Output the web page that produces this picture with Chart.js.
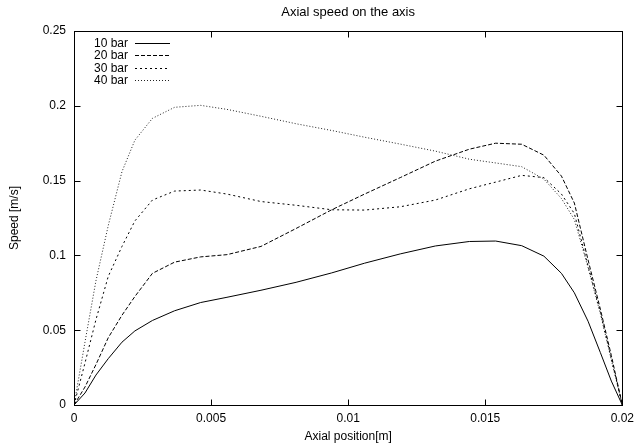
<!DOCTYPE html>
<html>
<head>
<meta charset="utf-8">
<script src="https://cdn.jsdelivr.net/npm/chart.js@4.4.1/dist/chart.umd.min.js"></script>
<style>
  html, body { margin: 0; padding: 0; background: #fff; }
  canvas { display: block; }
</style>
</head>
<body>
<canvas id="chart" width="640" height="447"></canvas>
<script>
// axial positions of the mesh nodes [m]
var positions = [0, 0.0004, 0.0008, 0.00125, 0.00175, 0.00222, 0.00286, 0.00367, 0.00462, 0.00558,
    0.00682, 0.0081, 0.0094, 0.0106, 0.0119, 0.01318, 0.01442, 0.01538, 0.01633, 0.01714,
    0.01778, 0.01825, 0.01875, 0.0192, 0.0196, 0.02];

// speed [m/s] per pressure
var speed10 = [0, 0.008, 0.02, 0.031, 0.042, 0.0495, 0.0565, 0.063, 0.0685, 0.072,
    0.0767, 0.082, 0.0883, 0.0948, 0.101, 0.1063, 0.1093, 0.1096, 0.1065, 0.0995,
    0.088, 0.075, 0.056, 0.035, 0.016, 0];
var speed20 = [0, 0.012, 0.027, 0.045, 0.060, 0.0725, 0.088, 0.0955, 0.099, 0.1005,
    0.106, 0.118, 0.1305, 0.141, 0.152, 0.163, 0.171, 0.175, 0.1743, 0.167,
    0.153, 0.135, 0.097, 0.064, 0.033, 0];
var speed30 = [0, 0.028, 0.057, 0.086, 0.106, 0.123, 0.137, 0.143, 0.1437, 0.141,
    0.136, 0.1335, 0.1305, 0.1303, 0.1325, 0.137, 0.1445, 0.149, 0.1535, 0.152,
    0.141, 0.128, 0.093, 0.062, 0.031, 0];
var speed40 = [0, 0.042, 0.083, 0.12, 0.156, 0.177, 0.1916, 0.199, 0.2003, 0.1976,
    0.193, 0.188, 0.1835, 0.179, 0.1744, 0.1697, 0.1643, 0.1618, 0.1593, 0.151,
    0.138, 0.124, 0.092, 0.061, 0.03, 0];

var seriesLabels = ['10 bar', '20 bar', '30 bar', '40 bar'];
var xTicks = [0, 0.005, 0.01, 0.015, 0.02];
var yTicks = [0, 0.05, 0.1, 0.15, 0.2, 0.25];

var FONT = '"Liberation Sans", Arial, Helvetica, sans-serif';

function points(values) {
    return values.map(function (v, i) { return { x: positions[i], y: v }; });
}

function fmt(v) {
    return String(+(+v).toFixed(4));
}

// gnuplot style box, inward ticks on all sides and the key
var gnuplotFrame = {
    id: 'gnuplotFrame',
    afterDatasetsDraw: function (chart) {
        var ctx = chart.ctx;
        var a = chart.chartArea;
        var xs = chart.scales.x, ys = chart.scales.y;
        var L = Math.round(a.left) + 0.5, R = Math.round(a.right) + 0.5;
        var T = Math.round(a.top) + 0.5, B = Math.round(a.bottom) + 0.5;
        ctx.save();
        ctx.strokeStyle = '#000';
        ctx.lineWidth = 1;
        ctx.setLineDash([]);
        ctx.strokeRect(L, T, R - L, B - T);
        ctx.beginPath();
        xTicks.forEach(function (t) {
            var px = Math.round(xs.getPixelForValue(t)) + 0.5;
            ctx.moveTo(px, B); ctx.lineTo(px, B - 6);
            ctx.moveTo(px, T); ctx.lineTo(px, T + 6);
        });
        yTicks.forEach(function (t) {
            var py = Math.round(ys.getPixelForValue(t)) + 0.5;
            ctx.moveTo(L, py); ctx.lineTo(L + 6, py);
            ctx.moveTo(R, py); ctx.lineTo(R - 6, py);
        });
        ctx.stroke();

        // key
        ctx.font = '12px ' + FONT;
        ctx.fillStyle = '#000';
        ctx.textAlign = 'right';
        ctx.textBaseline = 'middle';
        chart.data.datasets.forEach(function (ds, i) {
            var yy = Math.round(a.top + 12 + i * 12.3) + 0.5;
            ctx.fillText(ds.label, a.left + 54, yy);
            ctx.strokeStyle = ds.borderColor;
            ctx.setLineDash(ds.borderDash || []);
            ctx.beginPath();
            ctx.moveTo(a.left + 61, yy);
            ctx.lineTo(a.left + 96, yy);
            ctx.stroke();
        });
        ctx.restore();
    }
};

var speedChart = new Chart(
    document.getElementById('chart'),
    {
        type: 'line',
        data: {
            datasets: [{
                label: seriesLabels[0],
                data: points(speed10),
                borderColor: '#000',
                borderWidth: 1,
                borderDash: [],
                fill: false,
                pointRadius: 0,
                tension: 0
            }, {
                label: seriesLabels[1],
                data: points(speed20),
                borderColor: '#000',
                borderWidth: 1,
                borderDash: [4, 2],
                fill: false,
                pointRadius: 0,
                tension: 0
            }, {
                label: seriesLabels[2],
                data: points(speed30),
                borderColor: '#000',
                borderWidth: 1,
                borderDash: [2, 3],
                fill: false,
                pointRadius: 0,
                tension: 0
            }, {
                label: seriesLabels[3],
                data: points(speed40),
                borderColor: '#222',
                borderWidth: 1,
                borderDash: [1, 2],
                fill: false,
                pointRadius: 0,
                tension: 0
            }]
        },
        options: {
            responsive: false,
            devicePixelRatio: 1,
            animation: false,
            layout: {
                padding: { top: 0, right: 16, bottom: 0, left: 0 }
            },
            plugins: {
                legend: { display: false },
                tooltip: { enabled: false },
                title: {
                    display: true,
                    fullSize: false,
                    text: 'Axial speed on the axis',
                    color: '#000',
                    font: { family: FONT, size: 13, weight: 'normal' },
                    padding: { top: 4.5, bottom: 10.9 }
                }
            },
            scales: {
                x: {
                    type: 'linear',
                    min: 0,
                    max: 0.02,
                    afterBuildTicks: function (scale) {
                        scale.ticks = xTicks.map(function (v) { return { value: v }; });
                    },
                    afterFit: function (scale) { scale.height = 42; },
                    grid: { display: false, drawTicks: false },
                    border: { display: false },
                    ticks: {
                        autoSkip: false,
                        maxRotation: 0,
                        padding: 6,
                        color: '#000',
                        font: { family: FONT, size: 12 },
                        callback: fmt
                    },
                    title: {
                        display: true,
                        text: 'Axial position[m]',
                        color: '#000',
                        font: { family: FONT, size: 12 },
                        padding: { top: 0, bottom: 2.8 }
                    }
                },
                y: {
                    type: 'linear',
                    min: 0,
                    max: 0.25,
                    afterBuildTicks: function (scale) {
                        scale.ticks = yTicks.map(function (v) { return { value: v }; });
                    },
                    afterFit: function (scale) { scale.width = 74; },
                    grid: { display: false, drawTicks: false },
                    border: { display: false },
                    ticks: {
                        padding: 8,
                        color: '#000',
                        font: { family: FONT, size: 12 },
                        callback: fmt
                    },
                    title: {
                        display: true,
                        text: 'Speed [m/s]',
                        color: '#000',
                        font: { family: FONT, size: 12 },
                        padding: { top: 7.8, bottom: 0 }
                    }
                }
            }
        },
        plugins: [gnuplotFrame]
    }
);
</script>
</body>
</html>
